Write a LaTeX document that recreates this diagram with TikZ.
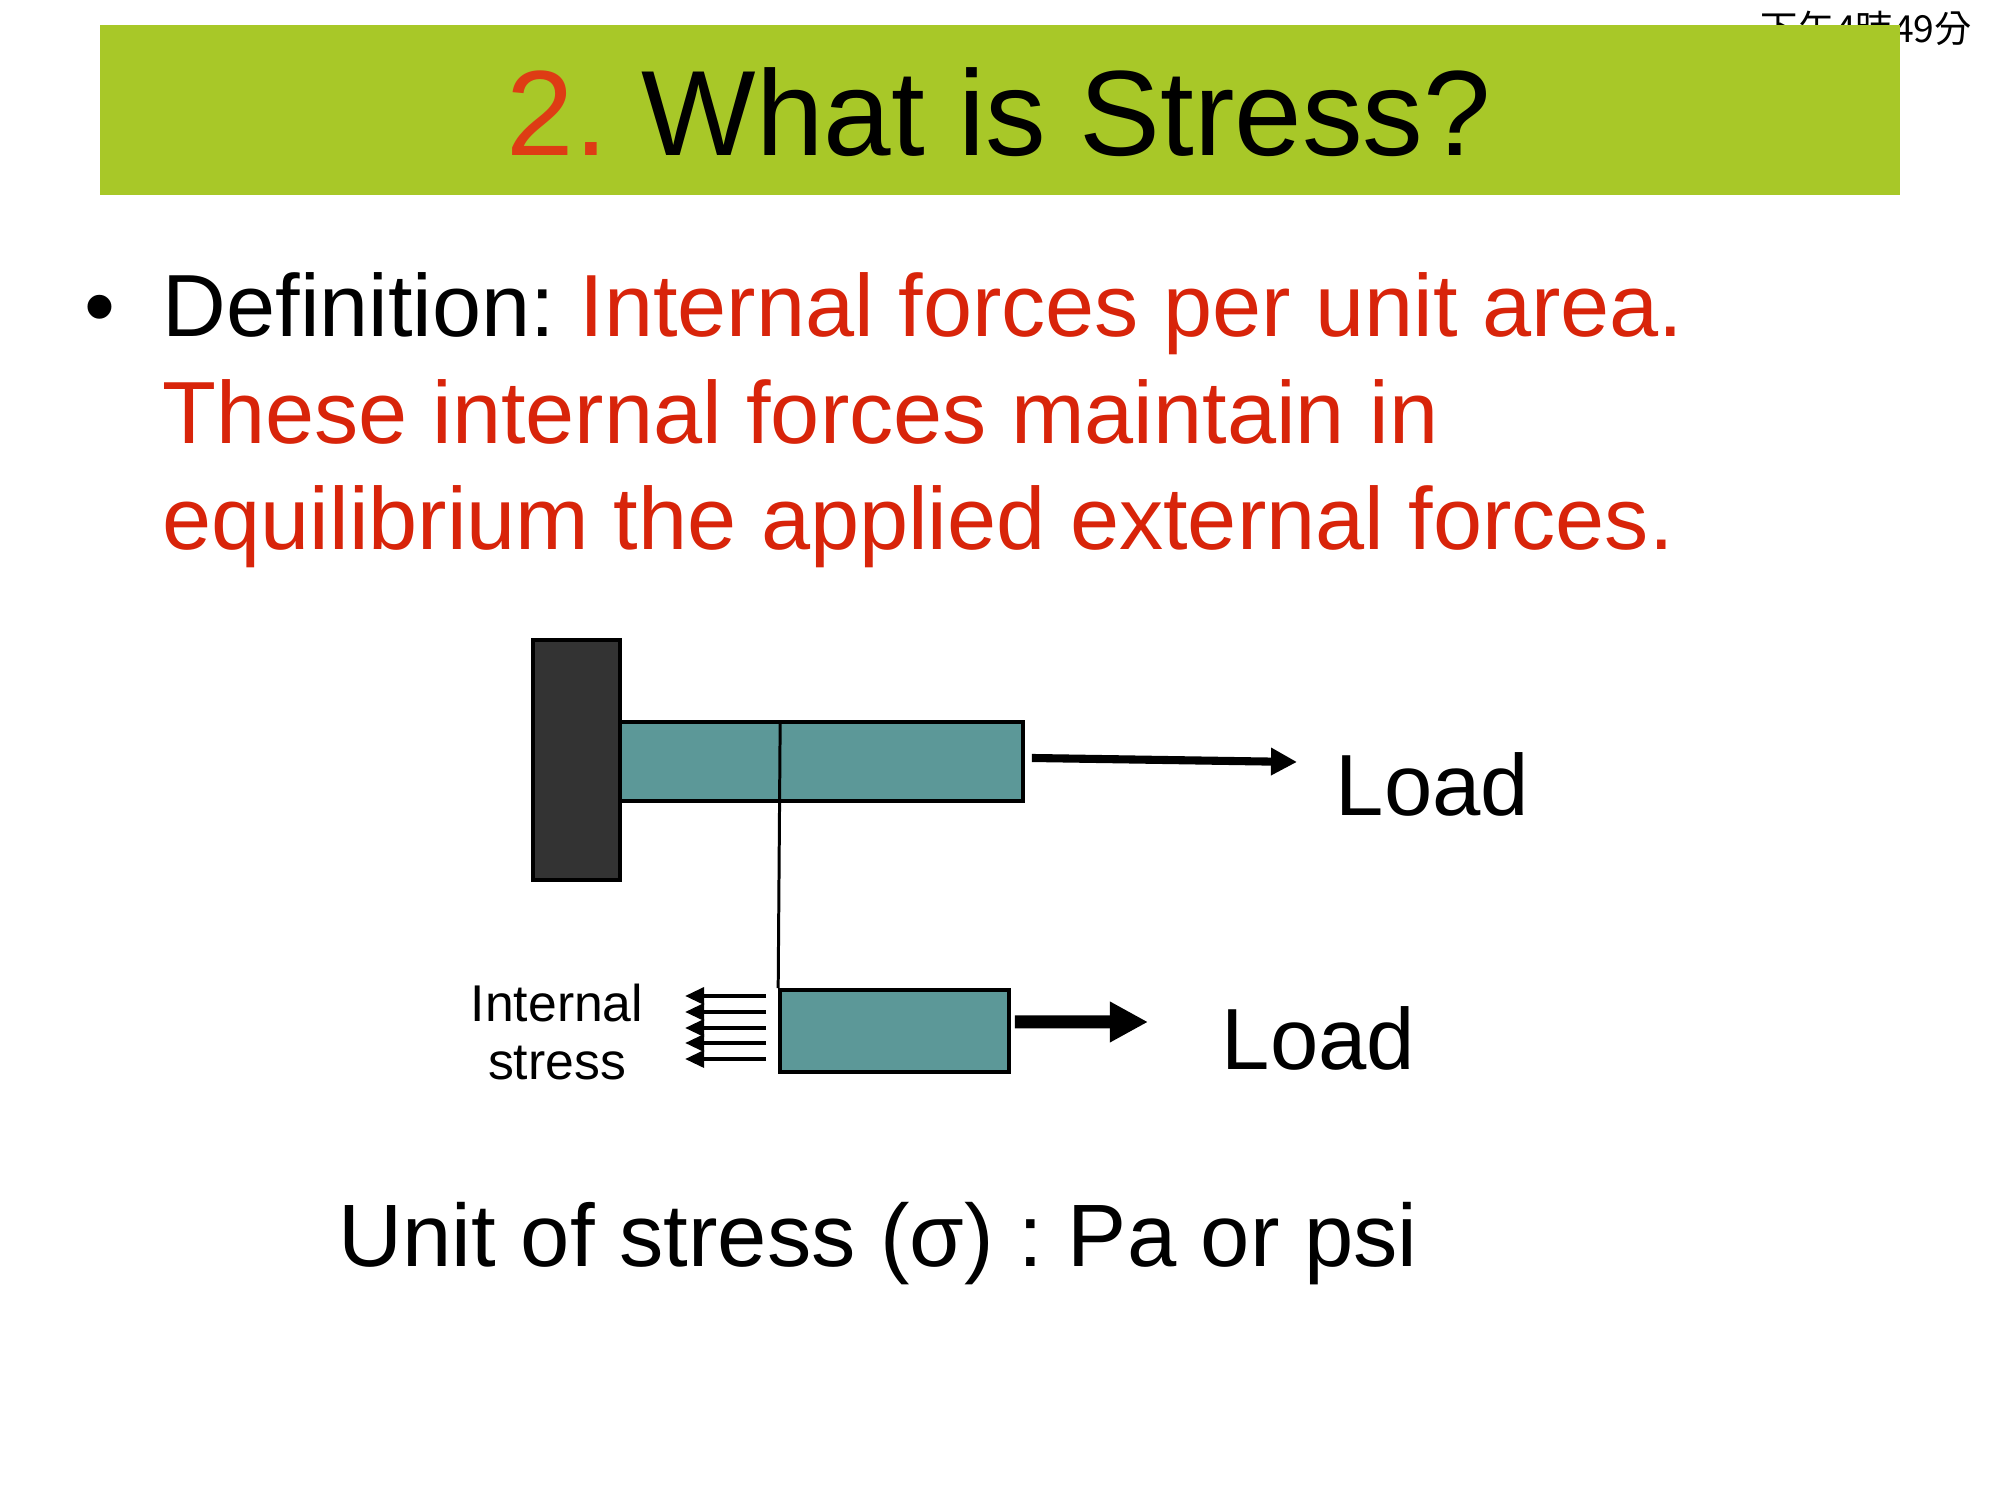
\documentclass[tikz,border=0pt]{standalone}
\usepackage{fontspec}
\setmainfont{Liberation Sans}
\newfontfamily\cjkfont{Noto Sans CJK TC}
\usepackage{tikz}
\usetikzlibrary{arrows.meta}

\definecolor{bannergreen}{RGB}{168,200,40}
\definecolor{defred}{RGB}{216,36,10}
\definecolor{numred}{RGB}{222,60,20}
\definecolor{barteal}{RGB}{92,152,152}
\definecolor{walldark}{RGB}{51,51,51}

\tikzset{
  txt/.style={inner sep=0pt,anchor=base west},
  bar/.style={draw=black,fill=barteal,line width=1pt,inner sep=0pt},
  stressarrow/.style={line width=1pt,-{Triangle[length=0.19cm,width=0.17cm]}}
}

\begin{document}
\frenchspacing
\begin{tikzpicture}[x=0.01cm,y=0.01cm]
\useasboundingbox (0,0) rectangle (2000,1500);
\node[txt,font=\cjkfont\fontsize{10.6}{12}\selectfont] (clock) at (1760,1457) {下午4時49分};
\fill[bannergreen] (100,1305) rectangle (1900,1475);
\node[inner sep=0pt,anchor=base,font=\fontsize{34.5}{40}\selectfont] (title) at (999,1344) {\textcolor{numred}{2.} What is Stress?};
\node[txt,font=\fontsize{25.1}{30}\selectfont] (bullet) at (84,1163) {•};
\node[txt,font=\fontsize{25.1}{30}\selectfont] (def1) at (162,1163) {Definition: \textcolor{defred}{Internal forces per unit area.}};
\node[txt,font=\fontsize{25.1}{30}\selectfont,defred] (def2) at (162,1056) {These internal forces maintain in};
\node[txt,font=\fontsize{25.1}{30}\selectfont,defred] (def3) at (162,950) {equilibrium the applied external forces.};
% fixed wall and the loaded bar
\node[draw=black,fill=walldark,line width=1pt,inner sep=0pt,minimum width=0.87cm,minimum height=2.40cm] (wall) at (576.5,740) {};
\node[bar,minimum width=4.03cm,minimum height=0.79cm] (upperbar) at (821.5,738.5) {};
\node[bar,minimum width=2.29cm,minimum height=0.82cm] (lowerbar) at (894.5,469) {};
\draw[line width=0.85pt] ([xshift=0.02cm]lowerbar.north west |- upperbar.north) -- (lowerbar.north west);
\coordinate (toptip) at (1297,738);
\coordinate (bottip) at (1148,478);
\draw[line width=2.3pt,-{Triangle[length=0.26cm,width=0.26cm]}] ([xshift=0.07cm,yshift=0.035cm]upperbar.east) -- (toptip);
\draw[line width=3.7pt,-{Triangle[length=0.38cm,width=0.38cm]}] ([xshift=0.04cm,yshift=0.09cm]lowerbar.east) -- (bottip);
\foreach \dy in {0.35,0.19,0.03,-0.12,-0.28}
  \draw[stressarrow] ([shift={(-0.12cm,\dy cm)}]lowerbar.west) -- ++(-0.81cm,0);
\node[txt,font=\fontsize{24.7}{28}\selectfont] (topload) at (1335,684) {Load};
\node[txt,font=\fontsize{24.7}{28}\selectfont] (botload) at (1221,430) {Load};
\node[inner sep=0pt,anchor=base,font=\fontsize{14.7}{16}\selectfont] (intlbl) at (557,478) {Internal};
\node[inner sep=0pt,anchor=base,font=\fontsize{14.7}{16}\selectfont] (strlbl) at (557,420) {stress};
\node[txt,font=\fontsize{25.2}{30}\selectfont] (unit) at (338,233) {Unit of stress (σ) : Pa or psi};
\end{tikzpicture}
\end{document}
